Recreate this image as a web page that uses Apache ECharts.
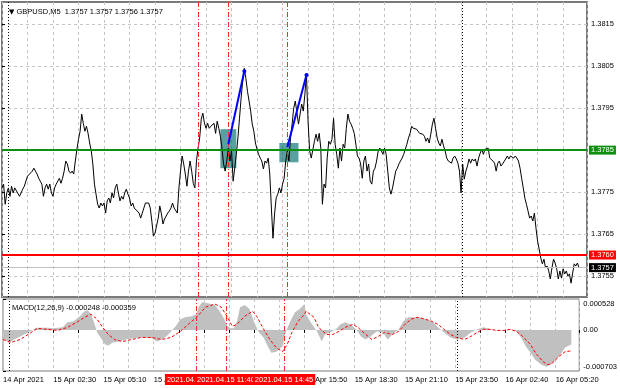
<!DOCTYPE html>
<html><head><meta charset="utf-8">
<script src="https://cdn.jsdelivr.net/npm/echarts@6/dist/echarts.min.js"></script>
<style>html,body{margin:0;padding:0;background:#fff}#c{width:620px;height:388px}</style>
</head><body><div id="c"></div>
<script>
// ---- data (x = M5 bar number counted from 14 Apr 2021 23:50) ----
const symbolName = 'GBPUSD,M5';
const lastBarOHLC = [1.3757, 1.3757, 1.3756, 1.3757];
const priceBars = [
[0,1.37760],[1,1.37769],[2,1.37721],[3,1.37748],[4,1.37760],[5,1.37740],[6,1.37764],[7,1.37748],[8,1.37760],[9,1.37757],
[11,1.37740],[12,1.37736],[13,1.37757],[14,1.37764],[15,1.37764],[16,1.37788],[19,1.37800],[20,1.37807],[21,1.37800],[22,1.37793],
[23,1.37783],[24,1.37776],[25,1.37769],[26,1.37740],[27,1.37760],[28,1.37769],[29,1.37757],[30,1.37769],[31,1.37748],[32,1.37740],
[33,1.37760],[34,1.37769],[35,1.37771],[36,1.37783],[37,1.37771],[38,1.37783],[39,1.37800],[40,1.37824],[41,1.37817],[42,1.37800],
[43,1.37795],[44,1.37800],[45,1.37793],[46,1.37824],[47,1.37852],[48,1.37876],[49,1.37895],[50,1.37936],[51,1.37914],[52,1.37895],
[53,1.37907],[54,1.37890],[55,1.37867],[56,1.37848],[57,1.37817],[58,1.37769],[59,1.37745],[60,1.37721],[61,1.37712],[62,1.37724],
[63,1.37717],[64,1.37724],[65,1.37700],[66,1.37729],[67,1.37736],[68,1.37724],[69,1.37748],[70,1.37736],[71,1.37760],[72,1.37769],
[73,1.37748],[74,1.37729],[75,1.37740],[76,1.37733],[77,1.37748],[78,1.37757],[79,1.37745],[80,1.37736],[81,1.37717],[82,1.37724],
[83,1.37712],[84,1.37710],[86,1.37700],[87,1.37688],[88,1.37700],[89,1.37712],[90,1.37724],[92,1.37724],[93,1.37712],[94,1.37681],
[95,1.37645],[96,1.37652],[97,1.37650],[98,1.37688],[99,1.37717],[100,1.37698],[101,1.37674],[102,1.37686],[103,1.37693],[104,1.37700],
[105,1.37705],[106,1.37712],[107,1.37724],[108,1.37712],[110,1.37700],[111,1.37760],[112,1.37800],[113,1.37836],[114,1.37817],[115,1.37793],
[116,1.37764],[117,1.37800],[118,1.37824],[119,1.37800],[120,1.37771],[121,1.37760],[122,1.37824],[123,1.37855],[124,1.37879],[125,1.37924],
[126,1.37938],[127,1.37914],[128,1.37902],[129,1.37914],[130,1.37902],[131,1.37907],[133,1.37914],[134,1.37890],[135,1.37919],[136,1.37902],
[137,1.37883],[138,1.37855],[139,1.37817],[140,1.37800],[141,1.37824],[142,1.37855],[143,1.37824],[144,1.37848],[145,1.37776],[146,1.37807],
[147,1.37840],[148,1.37879],[149,1.37926],[150,1.37974],[151,1.38014],[152,1.38045],[153,1.38021],[154,1.37990],[155,1.37967],[156,1.37943],
[157,1.37912],[158,1.37895],[159,1.37867],[160,1.37852],[161,1.37840],[162,1.37831],[163,1.37824],[164,1.37805],[165,1.37824],[166,1.37819],
[167,1.37831],[168,1.37793],[169,1.37712],[170,1.37640],[171,1.37698],[172,1.37736],[173,1.37745],[174,1.37760],[175,1.37748],[176,1.37769],
[177,1.37783],[178,1.37824],[179,1.37848],[180,1.37824],[181,1.37879],[182,1.37912],[183,1.37950],[184,1.37967],[185,1.37967],[186,1.37912],
[187,1.37936],[188,1.37960],[189,1.37943],[190,1.37983],[191,1.38031],[192,1.37919],[193,1.37848],[194,1.37831],[195,1.37829],[196,1.37871],
[197,1.37888],[198,1.37871],[199,1.37890],[200,1.37855],[201,1.37721],[202,1.37769],[203,1.37760],[204,1.37831],[205,1.37871],[206,1.37864],
[207,1.37876],[208,1.37926],[209,1.37864],[210,1.37840],[211,1.37807],[212,1.37855],[213,1.37824],[214,1.37864],[215,1.37855],[216,1.37902],
[217,1.37936],[218,1.37919],[219,1.37912],[220,1.37902],[221,1.37890],[222,1.37864],[223,1.37836],[224,1.37831],[225,1.37817],[226,1.37783],
[227,1.37824],[228,1.37836],[229,1.37800],[230,1.37817],[231,1.37776],[232,1.37769],[233,1.37800],[234,1.37807],[235,1.37824],[236,1.37848],
[237,1.37855],[238,1.37848],[239,1.37840],[240,1.37855],[241,1.37840],[242,1.37800],[243,1.37760],[244,1.37745],[245,1.37760],[247,1.37800],
[248,1.37807],[249,1.37817],[250,1.37824],[251,1.37831],[252,1.37840],[253,1.37852],[254,1.37864],[255,1.37879],[256,1.37890],[257,1.37907],
[258,1.37902],[259,1.37900],[260,1.37900],[261,1.37895],[262,1.37890],[263,1.37890],[264,1.37888],[265,1.37883],[266,1.37871],[267,1.37879],
[268,1.37867],[269,1.37888],[270,1.37912],[271,1.37926],[272,1.37902],[273,1.37879],[274,1.37867],[275,1.37860],[276,1.37876],[277,1.37860],
[278,1.37848],[279,1.37831],[280,1.37824],[281,1.37824],[282,1.37819],[283,1.37831],[284,1.37836],[285,1.37829],[286,1.37819],[287,1.37800],
[288,1.37748],[289,1.37817],[290,1.37781],[291,1.37800],[292,1.37812],[293,1.37829],[294,1.37819],[295,1.37829],[296,1.37824],[297,1.37829],
[298,1.37812],[299,1.37831],[300,1.37843],[301,1.37852],[302,1.37840],[303,1.37852],[304,1.37848],[305,1.37855],[306,1.37831],[307,1.37831],
[308,1.37824],[309,1.37819],[310,1.37800],[311,1.37819],[312,1.37824],[313,1.37812],[314,1.37817],[316,1.37829],[317,1.37836],[318,1.37829],
[319,1.37836],[320,1.37836],[321,1.37831],[322,1.37836],[323,1.37831],[324,1.37824],[325,1.37807],[326,1.37783],[327,1.37760],[328,1.37736],
[329,1.37721],[330,1.37705],[331,1.37688],[332,1.37693],[333,1.37681],[334,1.37700],[335,1.37664],[336,1.37633],[337,1.37614],[338,1.37593],
[339,1.37579],[340,1.37590],[341,1.37569],[342,1.37574],[343,1.37562],[344,1.37543],[345,1.37569],[346,1.37590],[347,1.37581],[348,1.37567],
[349,1.37543],[350,1.37562],[351,1.37545],[352,1.37567],[353,1.37555],[354,1.37562],[355,1.37550],[356,1.37555],[357,1.37533],[358,1.37557],
[359,1.37579],[360,1.37574],[361,1.37581],[362,1.37570]
];
const macdHistBars = [
[0,-0.000147],[4,-0.000216],[7,-0.000164],[11,-0.000112],[16,-0.000043],[19,0],[21,0.000035],[28,0.000035],[32,0.000026],[38,0.000043],
[41,0.000130],[45,0.000147],[49,0.000234],[52,0.000320],[54,0.000337],[56,0.000268],[58,0.000130],[60,-0.000043],[63,-0.000164],[65,-0.000251],
[67,-0.000268],[70,-0.000216],[74,-0.000199],[78,-0.000164],[82,-0.000147],[87,-0.000130],[91,-0.000130],[95,-0.000147],[98,-0.000199],[101,-0.000164],
[104,-0.000112],[107,-0.000026],[110,0.000061],[113,0.000182],[116,0.000216],[120,0.000234],[123,0.000268],[125,0.000407],[127,0.000476],[130,0.000458],
[135,0.000424],[138,0.000320],[141,0.000182],[143,0.000061],[145,0.000026],[147,0.000026],[149,0.000147],[151,0.000389],[154,0.000424],[157,0.000355],
[160,0.000130],[163,-0.000043],[166,-0.000130],[169,-0.000303],[171,-0.000389],[174,-0.000372],[178,-0.000285],[180,-0.000043],[183,0.000147],[186,0.000303],
[189,0.000355],[192,0.000441],[193,0.000268],[196,0.000130],[200,-0.000026],[203,-0.000199],[205,-0.000078],[208,-0.000043],[212,0.000009],[215,0.000095],
[218,0.000130],[222,0.000078],[225,0.000009],[228,-0.000112],[231,-0.000164],[234,-0.000112],[238,-0.000026],[242,-0.000043],[245,-0.000164],[248,-0.000078],
[252,0.000009],[255,0.000147],[258,0.000216],[261,0.000216],[265,0.000216],[270,0.000182],[274,0.000130],[277,0.000043],[281,-0.000043],[285,-0.000130],
[289,-0.000164],[294,-0.000130],[298,-0.000043],[302,0.000009],[306,0.000043],[311,0.000009],[314,-0.000009],[319,-0.000009],[323,0.000009],[327,-0.000026],
[330,-0.000130],[333,-0.000285],[336,-0.000389],[339,-0.000510],[343,-0.000597],[346,-0.000631],[349,-0.000597],[352,-0.000510],[355,-0.000424],[358,-0.000303],
[362,-0.000248]
];
const macdSignalBars = [
[0,-0.000164],[5,-0.000216],[11,-0.000164],[18,-0.000043],[22,0.000026],[28,0.000009],[35,-0.000009],[41,0.000043],[47,0.000130],[52,0.000216],
[56,0.000268],[60,0.000182],[63,0.000061],[67,-0.000078],[71,-0.000164],[76,-0.000199],[82,-0.000164],[88,-0.000130],[95,-0.000130],[101,-0.000164],
[107,-0.000130],[113,-0.000026],[118,0.000095],[124,0.000234],[129,0.000389],[135,0.000441],[139,0.000389],[143,0.000216],[146,0.000061],[149,0.000095],
[154,0.000234],[159,0.000320],[162,0.000216],[166,0.000009],[170,-0.000164],[174,-0.000303],[178,-0.000372],[181,-0.000251],[184,-0.000043],[188,0.000147],
[192,0.000268],[193,0.000320],[198,0.000216],[201,0.000043],[206,-0.000078],[210,-0.000078],[214,-0.000026],[218,0.000043],[223,0.000095],[226,0.000043],
[231,-0.000078],[235,-0.000164],[239,-0.000112],[243,-0.000043],[248,-0.000078],[252,-0.000026],[256,0.000095],[260,0.000182],[264,0.000216],[269,0.000182],
[273,0.000147],[277,0.000095],[281,0.000009],[285,-0.000078],[289,-0.000130],[294,-0.000164],[298,-0.000112],[302,-0.000043],[306,0.000009],[311,0.000009],
[314,-0.000009],[319,-0.000009],[323,0.000009],[327,-0.000026],[331,-0.000112],[336,-0.000251],[339,-0.000389],[344,-0.000545],[347,-0.000597],[350,-0.000562],
[354,-0.000458],[358,-0.000372],[362,-0.000359]
];
const macdParams = [12, 26, 9];
const macdLast = [-0.000248, -0.000359];

const priceTicks = [1.3755, 1.3765, 1.3775, 1.3785, 1.3795, 1.3805, 1.3815];
const priceRange = [1.37500, 1.38203];
const macdRange = [-0.000703, 0.000528];
const timeLabelIdx = [0, 32, 64, 96, 128, 160, 192, 224, 256, 288, 320, 352];
const timeLabels = ['14 Apr 2021','15 Apr 02:30','15 Apr 05:10','15 Apr 07:50','15 Apr 10:30','15 Apr 13:10',
                    '15 Apr 15:50','15 Apr 18:30','15 Apr 21:10','15 Apr 23:50','16 Apr 02:40','16 Apr 05:20'];
const barCount = 367;
const gridStep = 16;
const eventIdx = [123, 142, 179];
const eventLabels = ['2021.04.15 10:05', '2021.04.15 11:40', '2021.04.15 14:45'];
const daySepIdx = [4, 289];
const resistanceLevel = 1.3785;
const supportLevel = 1.3760;
const lastPrice = 1.3757;
const trendLines = [[[142, 1.37864], [152, 1.38038]], [[179, 1.37857], [191, 1.38029]]];
const entryZones = [[[137, 1.37900], [147, 1.37807]], [[174, 1.37867], [186, 1.37821]]];

// ---- chart ----
const FONT = 'Liberation Sans';
const FS = 7.5;
const chart = echarts.init(document.getElementById('c'), null, {renderer: 'canvas'});

const redDash = {color: '#ff2a2a', width: 1, type: [5, 2, 1, 2]};
function eventLines(withLabels) {
  return eventIdx.map((v, i) => ({
    xAxis: v, lineStyle: redDash,
    label: withLabels ? {show: true, position: 'start', formatter: eventLabels[i], color: '#fff',
      backgroundColor: '#ff0000', padding: [2, 2, 1, 2], distance: 3, fontSize: FS, fontFamily: FONT} : {show: false}
  }));
}
function daySeps() {
  return daySepIdx.map(v => ({xAxis: v, lineStyle: {color: '#000', width: 1, type: [1, 2]}, label: {show: false}}));
}
function levelLine(val, color, width, boxColor) {
  return {yAxis: val, lineStyle: {color: color, width: width, type: 'solid'},
    label: {show: true, position: 'end', formatter: val.toFixed(4), color: '#fff', backgroundColor: boxColor,
      padding: [1, 2, 0, 2], distance: 2, fontSize: FS, fontFamily: FONT}};
}

const splitDash = {show: true, lineStyle: {color: '#c4c4c4', width: 1, type: [3, 3]}};

const option = {
  animation: false,
  backgroundColor: '#fff',
  textStyle: {fontFamily: FONT},
  title: [
    {text: '{tri|▼} ' + symbolName + '  ' + lastBarOHLC.map(v => v.toFixed(4)).join(' '), left: 4, top: 3,
     textStyle: {fontSize: FS, fontWeight: 'normal', color: '#000', fontFamily: FONT,
       rich: {tri: {fontSize: 7, fontFamily: 'DejaVu Sans', color: '#000'}}}},
    {text: 'MACD(' + macdParams.join(',') + ') ' + macdLast.map(v => v.toFixed(6)).join(' '), left: 7, top: 299,
     textStyle: {fontSize: FS, fontWeight: 'normal', color: '#000', fontFamily: FONT}}
  ],
  grid: [
    {left: 2, right: 33, top: 2, height: 295, show: true, borderColor: '#7a7a7a', borderWidth: 2},
    {left: 2, right: 33, top: 299, height: 72, show: true, borderColor: '#7a7a7a', borderWidth: 1}
  ],
  xAxis: [
    {gridIndex: 0, type: 'value', min: 0, max: barCount, interval: gridStep,
     axisLine: {show: false}, axisTick: {show: false}, axisLabel: {show: false}, splitLine: splitDash},
    {gridIndex: 1, type: 'value', min: 0, max: barCount, interval: gridStep,
     axisLine: {show: false}, axisTick: {show: true, length: 3, lineStyle: {color: '#000'}},
     splitLine: splitDash,
     axisLabel: {customValues: timeLabelIdx, align: 'left', margin: 5, fontSize: FS, color: '#000', fontFamily: FONT,
       formatter: v => { const i = timeLabelIdx.indexOf(v); return i >= 0 ? timeLabels[i] : ''; }}}
  ],
  yAxis: [
    {gridIndex: 0, type: 'value', position: 'right', min: priceRange[0], max: priceRange[1],
     axisLine: {show: false},
     axisTick: {show: true, length: 3, customValues: priceTicks, lineStyle: {color: '#000'}},
     splitLine: splitDash,
     axisLabel: {customValues: priceTicks, margin: 4, fontSize: FS, color: '#000', fontFamily: FONT,
       formatter: v => v.toFixed(4)}},
    {gridIndex: 1, type: 'value', position: 'right', min: macdRange[0], max: macdRange[1],
     axisLine: {show: false}, splitLine: {show: false},
     axisTick: {show: true, length: 3, customValues: [macdRange[0], 0, macdRange[1]], lineStyle: {color: '#000'}},
     axisLabel: {customValues: [macdRange[0], 0, macdRange[1]], margin: 4, fontSize: FS, color: '#000', fontFamily: FONT,
       formatter: v => v === 0 ? '0.00' : (v > 0 ? '{t|' + v.toFixed(6) + '}' : '{b|' + v.toFixed(6) + '}'),
       rich: {t: {fontSize: FS, fontFamily: FONT, color: '#000', padding: [9, 0, 0, 0]},
              b: {fontSize: FS, fontFamily: FONT, color: '#000', padding: [0, 0, 9, 0]}}}}
  ],
  series: [
    {type: 'line', name: 'price', xAxisIndex: 0, yAxisIndex: 0, data: priceBars, showSymbol: false,
     lineStyle: {color: '#000', width: 1}, z: 3,
     markArea: {silent: true, itemStyle: {color: 'rgba(0,110,110,0.65)'},
       data: entryZones.map(z => [{coord: z[0]}, {coord: z[1]}])},
     markLine: {silent: true, symbol: ['none', 'none'], animation: false, precision: 6,
       data: [].concat(
         daySeps(), eventLines(false),
         [levelLine(lastPrice, '#c0c0c0', 1, '#000'),
          levelLine(supportLevel, '#ff0000', 2, '#ff0000'),
          levelLine(resistanceLevel, '#0f8f0f', 2, '#0f8f0f')],
         trendLines.map(t => [
           {coord: t[0], symbol: 'none', lineStyle: {color: '#0000ff', width: 2, type: 'solid'}, label: {show: false}},
           {coord: t[1], symbol: 'circle', symbolSize: 4, itemStyle: {color: '#000080'}}])
       )}},
    {type: 'line', name: 'MACD', xAxisIndex: 1, yAxisIndex: 1, data: macdHistBars, showSymbol: false,
     lineStyle: {width: 0, color: '#c0c0c0'}, areaStyle: {color: '#c0c0c0', opacity: 1, origin: 0}, z: 2,
     markLine: {silent: true, symbol: ['none', 'none'], animation: false, precision: 6,
       data: [].concat(daySeps(), eventLines(true))}},
    {type: 'line', name: 'Signal', xAxisIndex: 1, yAxisIndex: 1, data: macdSignalBars, showSymbol: false,
     lineStyle: {color: '#ff0000', width: 1, type: [3, 2]}, z: 3}
  ]
};
chart.setOption(option);
</script>
</body></html>
